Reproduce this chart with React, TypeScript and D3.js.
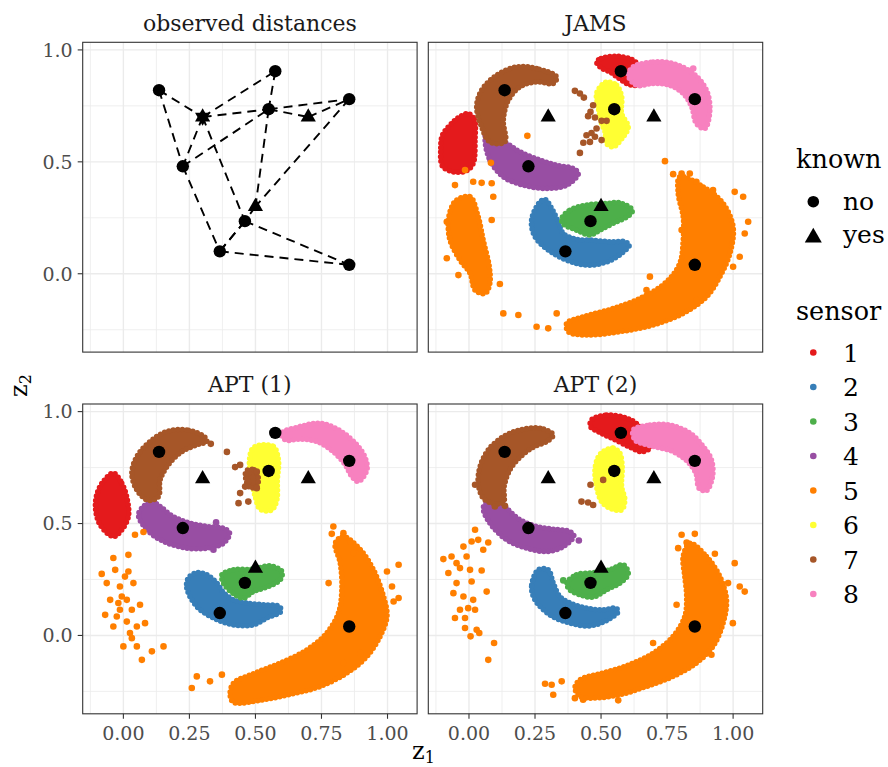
import React from "react";
import * as d3 from "d3";

type P = [number, number];
type S = [number, number, number];

const FONT = "'DejaVu Serif', serif";

// Set1 palette, sensors 1..8
const sensorColors = ["#E41A1C", "#377EB8", "#4DAF4A", "#984EA3", "#FF7F00", "#FFFF33", "#A65628", "#F781BF"];
const sensorLabels = ["1", "2", "3", "4", "5", "6", "7", "8"];

// true positions of the unknown sensors (1..8) and of the known anchors
const sensorX = [0.575, 0.365, 0.46, 0.225, 0.855, 0.55, 0.135, 0.855];
const sensorY = [0.905, 0.10, 0.235, 0.48, 0.04, 0.735, 0.82, 0.78];
const anchorX = [0.3, 0.7, 0.5];
const anchorY = [0.7, 0.7, 0.3];

// observed distances: pairs of nodes ("s" sensor index, "a" anchor index)
const edges: [string, string][] = [
  ["s6", "a0"], ["s6", "s3"], ["a0", "s0"], ["a0", "s5"], ["a0", "s3"], ["a0", "s2"],
  ["s3", "s5"], ["s3", "s1"], ["s0", "s5"], ["s5", "a2"], ["s5", "a1"], ["s5", "s7"],
  ["a1", "s7"], ["s7", "a2"], ["a2", "s2"], ["s2", "s1"], ["s1", "s2"], ["s2", "s4"], ["s1", "s4"],
];

// ---- JAMS cloud outlines (sensor, outline points) ----
const jamsShapes: { s: number; pts: P[] }[] = [
  { s: 1, pts: [[0.483, 0.946], [0.50, 0.962], [0.559, 0.972], [0.62, 0.955], [0.648, 0.92], [0.66, 0.87], [0.653, 0.845], [0.62, 0.842], [0.597, 0.85], [0.56, 0.88], [0.533, 0.902], [0.50, 0.92]] },
  { s: 1, pts: [[-0.003, 0.716], [0.02, 0.69], [0.023, 0.597], [0.016, 0.493], [-0.01, 0.46], [-0.059, 0.455], [-0.10, 0.48], [-0.107, 0.56], [-0.10, 0.62], [-0.059, 0.679], [-0.03, 0.705]] },
  { s: 2, pts: [[0.269, 0.321], [0.237, 0.240], [0.250, 0.165], [0.319, 0.091], [0.407, 0.046], [0.470, 0.039], [0.533, 0.058], [0.578, 0.091], [0.607, 0.128], [0.590, 0.143], [0.533, 0.143], [0.470, 0.150], [0.407, 0.154], [0.357, 0.180], [0.338, 0.232], [0.313, 0.292], [0.288, 0.332]] },
  { s: 3, pts: [[0.351, 0.247], [0.382, 0.284], [0.445, 0.307], [0.521, 0.314], [0.571, 0.317], [0.619, 0.284], [0.603, 0.258], [0.546, 0.225], [0.496, 0.195], [0.458, 0.173], [0.407, 0.195], [0.357, 0.222]] },
  { s: 4, pts: [[0.061, 0.597], [0.079, 0.508], [0.130, 0.433], [0.205, 0.396], [0.294, 0.381], [0.370, 0.396], [0.414, 0.448], [0.395, 0.470], [0.332, 0.485], [0.269, 0.508], [0.193, 0.545], [0.143, 0.582], [0.067, 0.634]] },
  { s: 5, pts: [[0.798, 0.433], [0.887, 0.388], [0.962, 0.314], [1.000, 0.210], [0.988, 0.091], [0.950, -0.013], [0.899, -0.103], [0.811, -0.177], [0.697, -0.229], [0.571, -0.259], [0.445, -0.274], [0.376, -0.259], [0.370, -0.221], [0.432, -0.192], [0.546, -0.155], [0.660, -0.103], [0.748, -0.036], [0.798, 0.046], [0.811, 0.150], [0.811, 0.254], [0.792, 0.359]] },
  { s: 5, pts: [[-0.047, 0.329], [0.004, 0.344], [0.035, 0.254], [0.054, 0.150], [0.077, 0.031], [0.079, -0.043], [0.061, -0.088], [0.023, -0.073], [0.004, 0.002], [-0.034, 0.061], [-0.072, 0.150], [-0.078, 0.240], [-0.065, 0.299]] },
  { s: 6, pts: [[0.521, 0.857], [0.559, 0.842], [0.578, 0.790], [0.578, 0.716], [0.603, 0.656], [0.584, 0.612], [0.546, 0.567], [0.521, 0.582], [0.515, 0.634], [0.502, 0.671], [0.489, 0.746], [0.483, 0.805], [0.502, 0.842]] },
  { s: 7, pts: [[0.332, 0.879], [0.256, 0.917], [0.180, 0.924], [0.105, 0.887], [0.048, 0.820], [0.029, 0.746], [0.048, 0.656], [0.079, 0.589], [0.136, 0.589], [0.130, 0.686], [0.149, 0.775], [0.193, 0.835], [0.256, 0.857], [0.319, 0.850]] },
  { s: 8, pts: [[0.622, 0.924], [0.697, 0.946], [0.773, 0.939], [0.849, 0.895], [0.899, 0.820], [0.912, 0.731], [0.893, 0.649], [0.861, 0.671], [0.843, 0.746], [0.811, 0.805], [0.760, 0.842], [0.697, 0.850], [0.634, 0.842], [0.603, 0.887]] },
];

const jamsStrays: S[] = [
  [0.849, 0.917, 8],
  [0.083, 0.496, 5], [0.221, 0.616, 5], [0.742, 0.503, 5], [0.773, 0.445, 5], [0.805, 0.448, 5], [0.836, 0.448, 5],
  [0.861, 0.411, 5], [0.924, 0.374, 5], [1.006, 0.366, 5], [1.038, 0.344, 5], [1.057, 0.232, 5], [1.044, 0.180, 5],
  [1.025, 0.076, 5], [1.000, 0.031, 5], [0.861, -0.117, 5], [0.805, 0.195, 5], [0.685, -0.013, 5], [0.672, -0.073, 5],
  [0.332, -0.177, 5], [0.300, -0.244, 5], [0.256, -0.237, 5], [0.187, -0.184, 5], [0.130, -0.177, 5], [0.117, -0.046, 5],
  [0.086, 0.240, 5], [0.092, 0.344, 5], [0.086, 0.404, 5], [0.048, 0.406, 5], [0.016, 0.411, 5], [-0.015, 0.463, 5],
  [-0.053, 0.396, 5], [-0.084, 0.232, 5], [-0.084, 0.069, 5], [-0.040, -0.006, 5],
  [0.401, 0.817, 7], [0.420, 0.805, 7], [0.435, 0.787, 7], [0.470, 0.753, 7], [0.460, 0.723, 7], [0.451, 0.704, 7],
  [0.477, 0.698, 7], [0.502, 0.683, 7], [0.483, 0.649, 7], [0.464, 0.629, 7], [0.445, 0.619, 7], [0.477, 0.612, 7],
  [0.502, 0.597, 7], [0.433, 0.585, 7], [0.458, 0.589, 7], [0.420, 0.540, 7], [0.521, 0.683, 7],
];

// ---- APT (1) ----
const apt1Shapes: { s: number; pts: P[] }[] = [
  { s: 1, pts: [[-0.038, 0.725], [-0.006, 0.680], [0.015, 0.606], [0.019, 0.531], [-0.006, 0.472], [-0.038, 0.442], [-0.088, 0.494], [-0.105, 0.561], [-0.101, 0.628], [-0.076, 0.688]] },
  { s: 2, pts: [[0.246, 0.256], [0.240, 0.212], [0.278, 0.129], [0.341, 0.078], [0.417, 0.047], [0.492, 0.047], [0.543, 0.078], [0.596, 0.107], [0.591, 0.129], [0.530, 0.137], [0.467, 0.145], [0.417, 0.159], [0.379, 0.192], [0.354, 0.234], [0.316, 0.271], [0.278, 0.281]] },
  { s: 3, pts: [[0.373, 0.271], [0.417, 0.293], [0.492, 0.296], [0.556, 0.311], [0.600, 0.286], [0.594, 0.249], [0.543, 0.216], [0.492, 0.196], [0.455, 0.167], [0.417, 0.186], [0.379, 0.234]] },
  { s: 4, pts: [[0.057, 0.539], [0.089, 0.472], [0.152, 0.420], [0.240, 0.390], [0.316, 0.390], [0.379, 0.412], [0.402, 0.457], [0.379, 0.479], [0.316, 0.487], [0.253, 0.502], [0.189, 0.531], [0.139, 0.576], [0.108, 0.598], [0.076, 0.576]] },
  { s: 5, pts: [[0.833, 0.442], [0.897, 0.383], [0.947, 0.293], [0.985, 0.174], [0.998, 0.085], [0.972, -0.004], [0.922, -0.094], [0.846, -0.168], [0.745, -0.228], [0.644, -0.260], [0.530, -0.287], [0.417, -0.299], [0.404, -0.265], [0.417, -0.213], [0.492, -0.171], [0.594, -0.123], [0.695, -0.064], [0.770, 0.011], [0.814, 0.100], [0.827, 0.204], [0.821, 0.323], [0.802, 0.412]] },
  { s: 6, pts: [[0.505, 0.847], [0.568, 0.844], [0.587, 0.784], [0.583, 0.695], [0.581, 0.606], [0.562, 0.561], [0.518, 0.564], [0.499, 0.621], [0.486, 0.695], [0.477, 0.769], [0.486, 0.829]] },
  { s: 7, pts: [[0.306, 0.888], [0.240, 0.918], [0.164, 0.911], [0.101, 0.866], [0.051, 0.799], [0.032, 0.725], [0.051, 0.650], [0.095, 0.603], [0.133, 0.621], [0.139, 0.695], [0.170, 0.762], [0.221, 0.821], [0.278, 0.851], [0.316, 0.866]] },
  { s: 7, pts: [[0.465, 0.735], [0.495, 0.74], [0.51, 0.71], [0.505, 0.665], [0.48, 0.66], [0.465, 0.69]] },
  { s: 8, pts: [[0.600, 0.904], [0.669, 0.933], [0.745, 0.948], [0.821, 0.914], [0.884, 0.851], [0.916, 0.792], [0.922, 0.740], [0.890, 0.688], [0.865, 0.710], [0.840, 0.762], [0.795, 0.821], [0.733, 0.866], [0.669, 0.877], [0.612, 0.874]] },
];

const apt1Strays: S[] = [
  [0.351, 0.505, 4], [0.341, 0.383, 4],
  [0.795, 0.487, 5], [0.833, 0.457, 5], [0.789, 0.454, 5], [0.859, 0.420, 5], [0.871, 0.368, 5], [1.042, 0.316, 5],
  [0.998, 0.286, 5], [1.017, 0.219, 5], [1.042, 0.167, 5], [1.023, 0.152, 5], [0.897, -0.079, 5], [0.833, -0.123, 5],
  [0.328, -0.205, 5], [0.278, -0.183, 5], [0.259, -0.235, 5], [0.777, 0.234, 5], [0.373, -0.175, 5],
  [-0.082, 0.275, 5], [-0.038, 0.346, 5], [0.019, 0.360, 5], [-0.031, 0.293, 5], [0.019, 0.286, 5], [-0.063, 0.234, 5],
  [-0.013, 0.219, 5], [0.038, 0.234, 5], [-0.050, 0.159, 5], [-0.019, 0.145, 5], [0.013, 0.159, 5], [0.063, 0.137, 5],
  [-0.069, 0.092, 5], [-0.025, 0.085, 5], [0.013, 0.062, 5], [0.051, 0.040, 5], [-0.038, 0.040, 5], [0.025, 0.011, 5],
  [0.082, 0.055, 5], [0.000, -0.049, 5], [0.051, -0.049, 5], [0.108, -0.071, 5], [0.152, -0.049, 5], [0.070, -0.109, 5],
  [0.032, -0.012, 5], [-0.006, 0.174, 5], [0.006, 0.263, 5], [0.044, 0.450, 5], [0.076, 0.462, 5], [-0.013, 0.115, 5],
  [0.032, 0.115, 5],
  [0.331, 0.856, 7], [0.392, 0.820, 7], [0.423, 0.752, 7], [0.442, 0.762, 7], [0.473, 0.725, 7], [0.505, 0.732, 7],
  [0.473, 0.688, 7], [0.505, 0.658, 7], [0.442, 0.636, 7], [0.473, 0.598, 7], [0.436, 0.591, 7], [0.461, 0.665, 7],
];

// ---- APT (2) ----
const apt2Shapes: { s: number; pts: P[] }[] = [
  { s: 1, pts: [[0.464, 0.963], [0.521, 0.985], [0.597, 0.971], [0.641, 0.940], [0.672, 0.888], [0.685, 0.837], [0.653, 0.821], [0.609, 0.841], [0.546, 0.878], [0.496, 0.906], [0.460, 0.933]] },
  { s: 2, pts: [[0.262, 0.293], [0.237, 0.219], [0.250, 0.159], [0.306, 0.092], [0.382, 0.055], [0.458, 0.043], [0.521, 0.067], [0.565, 0.107], [0.556, 0.122], [0.508, 0.115], [0.445, 0.122], [0.382, 0.145], [0.344, 0.174], [0.319, 0.234], [0.300, 0.293]] },
  { s: 3, pts: [[0.370, 0.234], [0.407, 0.271], [0.470, 0.281], [0.533, 0.293], [0.584, 0.316], [0.603, 0.275], [0.571, 0.234], [0.521, 0.204], [0.470, 0.171], [0.432, 0.177], [0.382, 0.204]] },
  { s: 4, pts: [[0.054, 0.569], [0.079, 0.502], [0.143, 0.427], [0.218, 0.390], [0.294, 0.375], [0.357, 0.397], [0.397, 0.445], [0.382, 0.464], [0.319, 0.475], [0.256, 0.487], [0.193, 0.517], [0.149, 0.561], [0.117, 0.598], [0.067, 0.594]] },
  { s: 5, pts: [[0.836, 0.412], [0.899, 0.353], [0.950, 0.263], [0.975, 0.159], [0.962, 0.055], [0.924, -0.049], [0.861, -0.123], [0.773, -0.183], [0.672, -0.228], [0.571, -0.265], [0.470, -0.280], [0.420, -0.272], [0.401, -0.235], [0.420, -0.198], [0.496, -0.171], [0.597, -0.135], [0.697, -0.079], [0.773, -0.004], [0.817, 0.085], [0.824, 0.174], [0.817, 0.263], [0.811, 0.353]] },
  { s: 6, pts: [[0.508, 0.821], [0.546, 0.837], [0.571, 0.814], [0.580, 0.754], [0.578, 0.665], [0.590, 0.606], [0.578, 0.561], [0.533, 0.569], [0.502, 0.598], [0.483, 0.665], [0.477, 0.740], [0.489, 0.796]] },
  { s: 7, pts: [[0.319, 0.896], [0.269, 0.926], [0.193, 0.918], [0.130, 0.888], [0.073, 0.829], [0.042, 0.754], [0.035, 0.680], [0.054, 0.613], [0.086, 0.591], [0.130, 0.594], [0.133, 0.665], [0.155, 0.740], [0.193, 0.796], [0.243, 0.841], [0.294, 0.866]] },
  { s: 8, pts: [[0.622, 0.918], [0.685, 0.940], [0.760, 0.940], [0.836, 0.904], [0.887, 0.844], [0.918, 0.784], [0.922, 0.710], [0.899, 0.647], [0.871, 0.658], [0.859, 0.725], [0.824, 0.781], [0.773, 0.821], [0.710, 0.841], [0.660, 0.856], [0.628, 0.874]] },
];

const apt2Strays: S[] = [
  [0.357, 0.246, 3], [0.416, 0.424, 4],
  [0.805, 0.450, 5], [0.855, 0.454, 5], [0.824, 0.415, 5], [0.792, 0.390, 5], [0.931, 0.365, 5], [1.006, 0.323, 5],
  [0.981, 0.234, 5], [1.025, 0.219, 5], [1.044, 0.196, 5], [0.999, 0.055, 5], [0.918, -0.086, 5], [0.786, 0.137, 5],
  [0.697, -0.034, 5], [0.313, -0.220, 5], [0.288, -0.216, 5], [0.319, -0.265, 5], [0.351, -0.205, 5], [0.401, -0.280, 5],
  [0.432, -0.287, 5], [0.565, -0.290, 5],
  [-0.097, 0.341, 5], [-0.066, 0.353, 5], [-0.021, 0.397, 5], [0.023, 0.472, 5], [0.035, 0.427, 5], [0.073, 0.415, 5],
  [-0.009, 0.353, 5], [-0.034, 0.301, 5], [-0.078, 0.279, 5], [0.004, 0.293, 5], [0.048, 0.290, 5], [-0.047, 0.234, 5],
  [0.010, 0.241, 5], [-0.059, 0.189, 5], [-0.021, 0.174, 5], [0.016, 0.159, 5], [-0.034, 0.115, 5], [-0.003, 0.122, 5],
  [-0.053, 0.078, 5], [-0.015, 0.078, 5], [0.023, 0.115, 5], [-0.015, 0.033, 5], [0.029, 0.025, 5], [0.006, -0.004, 5],
  [0.039, 0.011, 5], [0.067, 0.196, 5], [0.095, -0.034, 5], [0.073, -0.109, 5], [0.010, 0.420, 5], [-0.047, 0.323, 5],
  [0.054, 0.383, 5],
  [0.023, 0.673, 7], [0.098, 0.576, 7], [0.136, 0.579, 7], [0.426, 0.598, 7], [0.451, 0.594, 7], [0.470, 0.583, 7],
  [0.460, 0.673, 7], [0.508, 0.695, 7],
];

const xDomain = [-0.154, 1.112];
const yDomain = [-0.35, 1.034];
const xMajor = [0, 0.25, 0.5, 0.75, 1.0];
const xMinor = [-0.125, 0.125, 0.375, 0.625, 0.875];
const yMajor = [0, 0.5, 1.0];
const yMinor = [-0.25, 0.25, 0.75];
const xTickLabels = ["0.00", "0.25", "0.50", "0.75", "1.00"];
const yTickLabels = ["0.0", "0.5", "1.0"];

const PW = 334.4;
const PH = 309.8;

const tri = d3.symbol().type(d3.symbolTriangle).size(100);

function Panel({ id, title, x0, y0, shapes, strays, observed, showX, showY }: any) {
  const x = d3.scaleLinear().domain(xDomain).range([0, PW]);
  const y = d3.scaleLinear().domain(yDomain).range([PH, 0]);
  const outline = d3.line<P>().x((d) => x(d[0])).y((d) => y(d[1])).curve(d3.curveCatmullRomClosed.alpha(0.5));
  const node = (k: string): P => {
    const i = +k.slice(1);
    return k[0] === "s" ? [sensorX[i], sensorY[i]] : [anchorX[i], anchorY[i]];
  };

  return (
    <g transform={`translate(${x0},${y0})`}>
      <defs>
        <clipPath id={`clip-${id}`}>
          <rect width={PW} height={PH} />
        </clipPath>
      </defs>
      <rect width={PW} height={PH} fill="white" />
      {xMinor.map((v) => <line key={"xm" + v} x1={x(v)} x2={x(v)} y1={0} y2={PH} stroke="#ebebeb" strokeWidth={0.8} />)}
      {yMinor.map((v) => <line key={"ym" + v} y1={y(v)} y2={y(v)} x1={0} x2={PW} stroke="#ebebeb" strokeWidth={0.8} />)}
      {xMajor.map((v) => <line key={"xM" + v} x1={x(v)} x2={x(v)} y1={0} y2={PH} stroke="#ebebeb" strokeWidth={1.4} />)}
      {yMajor.map((v) => <line key={"yM" + v} y1={y(v)} y2={y(v)} x1={0} x2={PW} stroke="#ebebeb" strokeWidth={1.4} />)}

      <g clipPath={`url(#clip-${id})`}>
        {sensorLabels.map((lab, si) => (
          <g key={lab}>
            {(shapes || []).filter((c: any) => c.s === si + 1).map((c: any, j: number) => (
              <g key={j}>
                <path d={outline(c.pts) || ""} fill={sensorColors[si]} />
                {/* dotted rim so the cloud edge looks like overlapping points */}
                <path d={outline(c.pts) || ""} fill="none" stroke={sensorColors[si]} strokeWidth={5.5}
                  strokeDasharray="0 4.5" strokeLinecap="round" />
              </g>
            ))}
            {(strays || []).filter((p: S) => p[2] === si + 1).map((p: S, j: number) => (
              <circle key={"p" + j} cx={x(p[0])} cy={y(p[1])} r={3.3} fill={sensorColors[si]} />
            ))}
          </g>
        ))}

        {observed && edges.map(([a, b], i) => {
          const pa = node(a);
          const pb = node(b);
          return (
            <line key={"e" + i} x1={x(pa[0])} y1={y(pa[1])} x2={x(pb[0])} y2={y(pb[1])}
              stroke="black" strokeWidth={1.9} strokeDasharray="9 6" />
          );
        })}

        {sensorX.map((sx, i) => <circle key={"s" + i} cx={x(sx)} cy={y(sensorY[i])} r={6.2} fill="black" />)}
        {anchorX.map((ax, i) => (
          <path key={"a" + i} d={tri() || ""} transform={`translate(${x(ax)},${y(anchorY[i])})`} fill="black" />
        ))}
        {observed && (
          <path d={tri() || ""} transform={`translate(${x(anchorX[0])},${y(anchorY[0])}) rotate(180)`} fill="black" />
        )}
      </g>

      <rect width={PW} height={PH} fill="none" stroke="#333333" strokeWidth={1.1} />

      <text x={PW / 2} y={-11.6} textAnchor="middle" fontSize={22} fill="#1a1a1a">{title}</text>

      {showY && yMajor.map((v, i) => (
        <g key={"yt" + v}>
          <line x1={-5} x2={0} y1={y(v)} y2={y(v)} stroke="#333333" strokeWidth={1.1} />
          <text x={-10} y={y(v)} dy="0.36em" textAnchor="end" fontSize={19} fill="#4d4d4d">{yTickLabels[i]}</text>
        </g>
      ))}
      {showX && xMajor.map((v, i) => (
        <g key={"xt" + v}>
          <line y1={PH} y2={PH + 5} x1={x(v)} x2={x(v)} stroke="#333333" strokeWidth={1.1} />
          <text x={x(v)} y={PH + 25.7} textAnchor="middle" fontSize={19} fill="#4d4d4d">{xTickLabels[i]}</text>
        </g>
      ))}
    </g>
  );
}

export default function App() {
  return (
    <svg width={888} height={767} style={{ position: "absolute", left: 0, top: 0, background: "white" }} fontFamily={FONT}>
      <Panel id="obs" title="observed distances" x0={82.7} y0={42.3} observed showY />
      <Panel id="jams" title="JAMS" x0={428.3} y0={42.3} shapes={jamsShapes} strays={jamsStrays} />
      <Panel id="apt1" title="APT (1)" x0={82.7} y0={404} shapes={apt1Shapes} strays={apt1Strays} showX showY />
      <Panel id="apt2" title="APT (2)" x0={428.3} y0={404} shapes={apt2Shapes} strays={apt2Strays} showX />

      <text x={412} y={759} fontSize={24} fill="black">z<tspan fontSize={16} dy={4}>1</tspan></text>
      <text transform="translate(27,397) rotate(-90)" fontSize={24} fill="black">z<tspan fontSize={16} dy={4}>2</tspan></text>

      <text x={796} y={168.3} fontSize={25.5} fill="black">known</text>
      <circle cx={813.3} cy={201.7} r={5.8} fill="black" />
      <text x={843} y={210} fontSize={25} fill="black">no</text>
      <path d={tri() || ""} transform="translate(813.3,237.5) scale(1.12)" fill="black" />
      <text x={843} y={243} fontSize={25} fill="black">yes</text>

      <text x={796} y={320} fontSize={25.5} fill="black">sensor</text>
      {sensorLabels.map((lab, i) => (
        <g key={lab}>
          <circle cx={813.3} cy={352.5 + i * 34.5} r={3.3} fill={sensorColors[i]} />
          <text x={843} y={361.5 + i * 34.5} fontSize={25} fill="black">{lab}</text>
        </g>
      ))}
    </svg>
  );
}
